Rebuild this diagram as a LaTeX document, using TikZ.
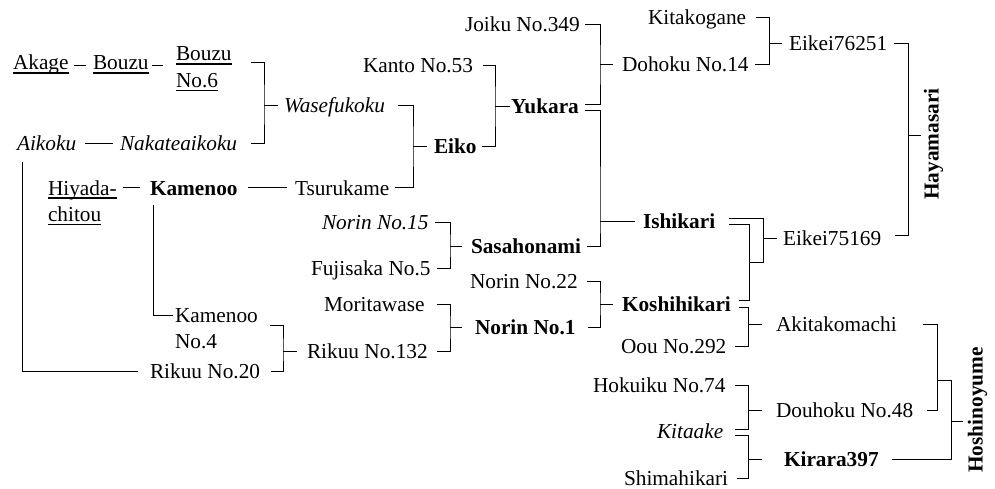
\documentclass[tikz,border=0pt]{standalone}
\usepackage{fontspec}
\setmainfont{Liberation Serif}
\newcommand\ulx[1]{\setbox0=\hbox{#1}\rlap{\rule[-3.8pt]{\wd0}{1.3pt}}\box0}
\newcommand\twol[2]{\vtop{\hbox{#1}\hbox{#2}}}
\begin{document}
\begin{tikzpicture}[x=1pt,y=-1pt,line width=1pt,
  font=\fontsize{21.3pt}{26.5pt}\selectfont,
  lbl/.style={inner sep=0pt,outer sep=0pt,text height=14pt,text depth=0pt,anchor=west},
  vlbl/.style={inner sep=0pt,outer sep=0pt,text height=14pt,text depth=0pt,rotate=90,anchor=center}]
\useasboundingbox (0,0) rectangle (995,489);
% nodes
\node[lbl] (akage) at (13,63) {\ulx{Akage}};
\node[lbl] (bouzu) at (93,63) {\ulx{Bouzu}};
\node[lbl] (bouzu6) at (176,54) {\twol{\ulx{Bouzu}}{\ulx{No.6}}};
\node[lbl] (aikoku) at (17,144) {\textit{Aikoku}};
\node[lbl] (nakate) at (120,144) {\textit{Nakateaikoku}};
\node[lbl] (wase) at (284,106) {\textit{Wasefukoku}};
\node[lbl] (hiyada) at (48,188) {\twol{\ulx{Hiyada-}}{\ulx{chitou}}};
\node[lbl] (kamenoo) at (150,188) {\textbf{Kamenoo}};
\node[lbl] (tsuru) at (295,188) {Tsurukame};
\node[lbl] (kam4) at (175,315) {\twol{Kamenoo}{No.4}};
\node[lbl] (rik20) at (150,371) {Rikuu No.20};
\node[lbl] (rik132) at (307,351) {Rikuu No.132};
\node[lbl] (eiko) at (434,147) {\textbf{Eiko}};
\node[lbl] (kanto) at (363,66) {Kanto No.53};
\node[lbl] (yukara) at (511,107) {\textbf{Yukara}};
\node[lbl] (joiku) at (465,25) {Joiku No.349};
\node[lbl] (kita) at (648,18) {Kitakogane};
\node[lbl] (doh14) at (622,65) {Dohoku No.14};
\node[lbl] (e76) at (789,44) {Eikei76251};
\node[vlbl] (haya) at (931.5,144) {\textbf{Hayamasari}};
\node[lbl] (ishi) at (643,221) {\textbf{Ishikari}};
\node[lbl] (e75) at (783,238) {Eikei75169};
\node[lbl] (n15) at (322,222) {\textit{Norin No.15}};
\node[lbl] (fuji) at (311,268) {Fujisaka No.5};
\node[lbl] (sasa) at (471,246) {\textbf{Sasahonami}};
\node[lbl] (mori) at (324,304) {Moritawase};
\node[lbl] (norin1) at (475,327) {\textbf{Norin No.1}};
\node[lbl] (n22) at (470,281) {Norin No.22};
\node[lbl] (koshi) at (622,304) {\textbf{Koshihikari}};
\node[lbl] (oou) at (621,346) {Oou No.292};
\node[lbl] (akita) at (776,324) {Akitakomachi};
\node[lbl] (hoku) at (593,385) {Hokuiku No.74};
\node[lbl] (dou48) at (776,410) {Douhoku No.48};
\node[lbl] (kitaake) at (657,431) {\textit{Kitaake}};
\node[lbl] (kirara) at (784,459) {\textbf{Kirara397}};
\node[lbl] (shima) at (624,478) {Shimahikari};
\node[vlbl] (hoshi) at (975.5,410) {\textbf{Hoshinoyume}};
% bracket joints
\coordinate (kW) at (264,106);
\coordinate (kE) at (413,147);
\coordinate (kY) at (495,107);
\coordinate (kD) at (600,65);
\coordinate (kI) at (600,221);
\coordinate (kK) at (769,44);
\coordinate (kH) at (908,136);
\coordinate (kHe) at (921,136);
\coordinate (kE75) at (763,238);
\coordinate (kL) at (749,262);
\coordinate (kS) at (450,246);
\coordinate (kN1) at (450,327);
\coordinate (kKo) at (600,304);
\coordinate (kR) at (283,351);
\coordinate (kA) at (748,324);
\coordinate (kDo) at (748,410);
\coordinate (kKi) at (748,459);
\coordinate (kHa) at (937,380);
\coordinate (kHb) at (951,421);
\coordinate (kHc) at (963,421);
% connectors
\draw ([xshift=5.5pt,yshift=-3pt]akage.east) -- ([xshift=-7pt,yshift=-3pt]bouzu.west);
\draw ([xshift=3.5pt,yshift=-3pt]bouzu.east) -- ([xshift=-13pt,yshift=-12pt]bouzu6.west);
\draw ([xshift=19pt,yshift=-9pt]bouzu6.east) -| (kW) |- ([xshift=14pt]nakate.east);
\draw (kW) -- ([xshift=-6pt]wase.west);
\draw ([xshift=9pt]aikoku.east) -- ([xshift=-7pt]nakate.west);
\draw ([xshift=5pt,yshift=-18pt]aikoku.west) |- ([xshift=-12pt]rik20.west);
\draw ([xshift=6.5pt]hiyada.east) -- ([xshift=-10pt]kamenoo.west);
\draw ([xshift=10.5pt]kamenoo.east) -- ([xshift=-8pt]tsuru.west);
\draw ([xshift=3pt,yshift=-17pt]kamenoo.west) |- ([xshift=-2pt]kam4.west);
\draw ([xshift=12pt,yshift=-10pt]kam4.east) -| (kR) |- ([xshift=11pt]rik20.east);
\draw (kR) -- ([xshift=-10pt]rik132.west);
\draw ([xshift=13pt]wase.east) -| (kE) |- ([xshift=6pt]tsuru.east);
\draw (kE) -- ([xshift=-7pt]eiko.west);
\draw ([xshift=9.5pt]kanto.east) -| (kY) |- ([xshift=5.5pt]eiko.east);
\draw (kY) -- ([xshift=-1.5pt]yukara.west);
\draw ([xshift=5pt]joiku.east) -| (kD) |- ([xshift=6pt,yshift=2.5pt]yukara.east);
\draw (kD) -- ([xshift=-9pt]doh14.west);
\draw ([xshift=6pt,yshift=-3.5pt]yukara.east) -| (kI) |- ([xshift=6pt]sasa.east);
\draw (kI) -- ([xshift=-8pt]ishi.west);
\draw ([xshift=10pt]kita.east) -| (kK) |- ([xshift=6.5pt]doh14.east);
\draw (kK) -- ([xshift=-7pt]e76.west);
\draw ([xshift=7pt]e76.east) -| (kH) |- ([xshift=14pt,yshift=3pt]e75.east);
\draw (kH) -- (kHe);
\draw ([xshift=14pt,yshift=3pt]ishi.east) -| (kE75) |- (kL);
\draw (kE75) -- ([xshift=-6pt]e75.west);
\draw ([xshift=14pt,yshift=-3pt]ishi.east) -| (kL) |- ([xshift=8pt,yshift=3.5pt]koshi.east);
\draw ([xshift=6.5pt]n15.east) -| (kS) |- ([xshift=6.5pt]fuji.east);
\draw (kS) -- ([xshift=-9pt]sasa.west);
\draw ([xshift=12pt]mori.east) -| (kN1) |- ([xshift=9pt]rik132.east);
\draw (kN1) -- ([xshift=-13pt]norin1.west);
\draw ([xshift=9.5pt]n22.east) -| (kKo) |- ([xshift=12pt]norin1.east);
\draw (kKo) -- ([xshift=-9pt]koshi.west);
\draw ([xshift=8pt,yshift=-3.5pt]koshi.east) -| (kA) |- ([xshift=9pt]oou.east);
\draw (kA) -- ([xshift=-14pt]akita.west);
\draw ([xshift=9.5pt]hoku.east) -| (kDo) |- ([xshift=12pt,yshift=2pt]kitaake.east);
\draw (kDo) -- ([xshift=-14pt]dou48.west);
\draw ([xshift=12pt,yshift=-4pt]kitaake.east) -| (kKi) |- ([xshift=9pt]shima.east);
\draw (kKi) -- ([xshift=-22pt]kirara.west);
\draw ([xshift=26pt]akita.east) -| (kHa) |- ([xshift=14pt]dou48.east);
\draw (kHa) -| (kHb) |- ([xshift=13pt]kirara.east);
\draw (kHb) -- (kHc);
\end{tikzpicture}
\end{document}
